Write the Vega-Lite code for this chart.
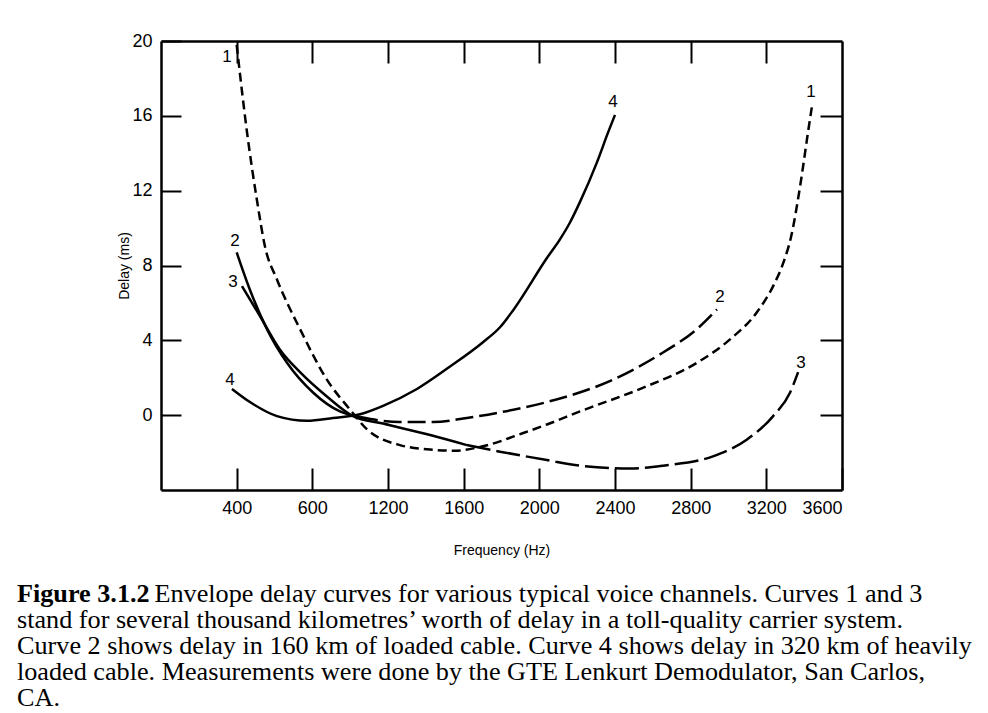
{
  "$schema": "https://vega.github.io/schema/vega-lite/v6.json",
  "autosize": {"type": "none"},
  "padding": {"left": 161, "top": 41, "right": 146, "bottom": 223},
  "width": 681,
  "height": 449,
  "background": "white",
  "config": {
    "view": {"stroke": null},
    "font": "Liberation Sans",
    "axis": {"grid": false, "domainColor": "black", "domainWidth": 2.5, "tickColor": "black", "tickWidth": 2, "labelColor": "black", "titleColor": "black", "labelFont": "Liberation Sans", "titleFont": "Liberation Sans"}
  },
  "title": {
    "text": "Figure 3.1.2",
    "subtitle": [
      "\u200b\u00a0\u00a0\u00a0\u00a0\u00a0\u00a0\u00a0\u00a0\u00a0\u00a0\u00a0\u00a0\u00a0\u00a0\u00a0\u00a0\u00a0\u00a0\u00a0\u00a0\u00a0Envelope delay curves for various typical voice channels. Curves 1 and 3",
      "stand for several thousand kilometres\u2019 worth of delay in a toll-quality carrier system.",
      "Curve 2 shows delay in 160 km of loaded cable. Curve 4 shows delay in 320 km of heavily",
      "loaded cable. Measurements were done by the GTE Lenkurt Demodulator, San Carlos,",
      "CA."
    ],
    "orient": "bottom",
    "anchor": "start",
    "frame": "group",
    "dx": -144,
    "offset": 24,
    "font": "Liberation Serif",
    "fontSize": 26.2,
    "fontWeight": "bold",
    "color": "black",
    "subtitleFont": "Liberation Serif",
    "subtitleFontSize": 26.2,
    "subtitleColor": "black",
    "subtitleLineHeight": 26,
    "subtitlePadding": -26.2
  },
  "datasets": {
    "curves": [
      {"curve": "1", "freq": 400, "delay": 19.8},
      {"curve": "1", "freq": 455, "delay": 15.1},
      {"curve": "1", "freq": 507, "delay": 11.5},
      {"curve": "1", "freq": 550, "delay": 9.0},
      {"curve": "1", "freq": 613, "delay": 7.25},
      {"curve": "1", "freq": 735, "delay": 4.6},
      {"curve": "1", "freq": 877, "delay": 1.9},
      {"curve": "1", "freq": 999, "delay": 0.3},
      {"curve": "1", "freq": 1088, "delay": -0.75},
      {"curve": "1", "freq": 1263, "delay": -1.6},
      {"curve": "1", "freq": 1438, "delay": -1.85},
      {"curve": "1", "freq": 1550, "delay": -1.9},
      {"curve": "1", "freq": 1686, "delay": -1.7},
      {"curve": "1", "freq": 1792, "delay": -1.4},
      {"curve": "1", "freq": 1861, "delay": -1.15},
      {"curve": "1", "freq": 2040, "delay": -0.5},
      {"curve": "1", "freq": 2215, "delay": 0.2},
      {"curve": "1", "freq": 2569, "delay": 1.55},
      {"curve": "1", "freq": 2833, "delay": 2.8},
      {"curve": "1", "freq": 3008, "delay": 4.05},
      {"curve": "1", "freq": 3150, "delay": 5.5},
      {"curve": "1", "freq": 3236, "delay": 6.9},
      {"curve": "1", "freq": 3290, "delay": 8.15},
      {"curve": "1", "freq": 3330, "delay": 9.5},
      {"curve": "1", "freq": 3378, "delay": 12.2},
      {"curve": "1", "freq": 3420, "delay": 15.1},
      {"curve": "1", "freq": 3441, "delay": 16.5},
      {"curve": "2", "freq": 400, "delay": 8.7},
      {"curve": "2", "freq": 470, "delay": 6.7},
      {"curve": "2", "freq": 560, "delay": 4.6},
      {"curve": "2", "freq": 666, "delay": 2.8},
      {"curve": "2", "freq": 805, "delay": 1.2},
      {"curve": "2", "freq": 946, "delay": 0.2},
      {"curve": "2", "freq": 1052, "delay": -0.1},
      {"curve": "2", "freq": 1263, "delay": -0.37},
      {"curve": "2", "freq": 1440, "delay": -0.37},
      {"curve": "2", "freq": 1617, "delay": -0.15},
      {"curve": "2", "freq": 1792, "delay": 0.15},
      {"curve": "2", "freq": 2040, "delay": 0.7},
      {"curve": "2", "freq": 2390, "delay": 1.9},
      {"curve": "2", "freq": 2654, "delay": 3.35},
      {"curve": "2", "freq": 2833, "delay": 4.6},
      {"curve": "2", "freq": 2939, "delay": 5.65},
      {"curve": "3", "freq": 428, "delay": 6.9},
      {"curve": "3", "freq": 523, "delay": 5.3},
      {"curve": "3", "freq": 629, "delay": 3.5},
      {"curve": "3", "freq": 735, "delay": 2.3},
      {"curve": "3", "freq": 877, "delay": 1.0},
      {"curve": "3", "freq": 1015, "delay": -0.05},
      {"curve": "3", "freq": 1174, "delay": -0.45},
      {"curve": "3", "freq": 1438, "delay": -1.1},
      {"curve": "3", "freq": 1617, "delay": -1.6},
      {"curve": "3", "freq": 1792, "delay": -1.95},
      {"curve": "3", "freq": 2040, "delay": -2.4},
      {"curve": "3", "freq": 2215, "delay": -2.7},
      {"curve": "3", "freq": 2479, "delay": -2.85},
      {"curve": "3", "freq": 2654, "delay": -2.7},
      {"curve": "3", "freq": 2918, "delay": -2.2},
      {"curve": "3", "freq": 3098, "delay": -1.3},
      {"curve": "3", "freq": 3236, "delay": -0.05},
      {"curve": "3", "freq": 3325, "delay": 1.2},
      {"curve": "3", "freq": 3368, "delay": 2.3},
      {"curve": "4", "freq": 375, "delay": 1.4},
      {"curve": "4", "freq": 470, "delay": 0.7},
      {"curve": "4", "freq": 613, "delay": -0.05},
      {"curve": "4", "freq": 772, "delay": -0.3},
      {"curve": "4", "freq": 909, "delay": -0.15},
      {"curve": "4", "freq": 1052, "delay": 0.05},
      {"curve": "4", "freq": 1174, "delay": 0.5},
      {"curve": "4", "freq": 1353, "delay": 1.4},
      {"curve": "4", "freq": 1528, "delay": 2.6},
      {"curve": "4", "freq": 1702, "delay": 3.9},
      {"curve": "4", "freq": 1792, "delay": 4.7},
      {"curve": "4", "freq": 1861, "delay": 5.6},
      {"curve": "4", "freq": 2040, "delay": 8.4},
      {"curve": "4", "freq": 2109, "delay": 9.4},
      {"curve": "4", "freq": 2162, "delay": 10.3},
      {"curve": "4", "freq": 2215, "delay": 11.4},
      {"curve": "4", "freq": 2304, "delay": 13.5},
      {"curve": "4", "freq": 2363, "delay": 15.1},
      {"curve": "4", "freq": 2400, "delay": 16.05}
    ],
    "labels": [
      {"label": "1", "freq": 349, "delay": 19.15},
      {"label": "1", "freq": 3436, "delay": 17.3},
      {"label": "2", "freq": 391, "delay": 9.3},
      {"label": "2", "freq": 2955, "delay": 6.3},
      {"label": "3", "freq": 381, "delay": 7.1},
      {"label": "3", "freq": 3383, "delay": 2.8},
      {"label": "4", "freq": 365, "delay": 1.9},
      {"label": "4", "freq": 2390, "delay": 16.75}
    ]
  },
  "resolve": {"axis": {"x": "independent", "y": "independent"}},
  "layer": [
    {
      "data": {"name": "curves"},
      "transform": [{"filter": "datum.curve == '4' || (datum.curve == '2' && datum.freq <= 1052) || (datum.curve == '3' && datum.freq <= 1617)"}],
      "mark": {"type": "line", "color": "black", "strokeWidth": 2.5, "interpolate": "monotone"},
      "encoding": {
        "x": {"field": "freq", "type": "quantitative", "scale": {"domain": [0, 3600], "nice": false},
          "axis": {"orient": "bottom", "title": "Frequency (Hz)", "values": [400, 800, 1200, 1600, 2000, 2400, 2800, 3200, 3600],
            "labelExpr": "datum.value == 800 ? '600' : datum.label", "format": "d", "tickSize": -22, "labelPadding": 31, "labelFontSize": 18, "titleFontSize": 14, "titleFontWeight": "normal", "titlePadding": 26}},
        "y": {"field": "delay", "type": "quantitative", "scale": {"domain": [-4, 20], "nice": false},
          "axis": {"orient": "left", "title": "Delay (ms)", "values": [0, 4, 8, 12, 16, 20], "tickSize": -20, "labelPadding": 29, "labelFontSize": 18, "titleFontSize": 14, "titleFontWeight": "normal", "titlePadding": 0}},
        "detail": {"field": "curve"}
      }
    },
    {
      "data": {"name": "curves"},
      "transform": [{"filter": "datum.curve == '1'"}],
      "mark": {"type": "line", "color": "black", "strokeWidth": 2.5, "interpolate": "monotone", "strokeDash": [9, 5]},
      "encoding": {
        "x": {"field": "freq", "type": "quantitative", "axis": {"orient": "top", "labels": false, "title": null, "values": [400, 800, 1200, 1600, 2000, 2400, 2800, 3200], "tickSize": -22}},
        "y": {"field": "delay", "type": "quantitative", "axis": {"orient": "right", "labels": false, "title": null, "values": [0, 4, 8, 12, 16], "tickSize": -22}}
      }
    },
    {
      "data": {"name": "curves"},
      "transform": [{"filter": "datum.curve == '2' && datum.freq >= 1052"}],
      "mark": {"type": "line", "color": "black", "strokeWidth": 2.5, "interpolate": "monotone", "strokeDash": [18, 6]},
      "encoding": {
        "x": {"field": "freq", "type": "quantitative", "axis": null},
        "y": {"field": "delay", "type": "quantitative", "axis": null}
      }
    },
    {
      "data": {"name": "curves"},
      "transform": [{"filter": "datum.curve == '3' && datum.freq >= 1617"}],
      "mark": {"type": "line", "color": "black", "strokeWidth": 2.5, "interpolate": "monotone", "strokeDash": [24, 6]},
      "encoding": {
        "x": {"field": "freq", "type": "quantitative", "axis": null},
        "y": {"field": "delay", "type": "quantitative", "axis": null}
      }
    },
    {
      "data": {"name": "labels"},
      "mark": {"type": "text", "color": "black", "font": "Liberation Sans", "fontSize": 17},
      "encoding": {
        "x": {"field": "freq", "type": "quantitative", "axis": null},
        "y": {"field": "delay", "type": "quantitative", "axis": null},
        "text": {"field": "label"}
      }
    }
  ]
}
